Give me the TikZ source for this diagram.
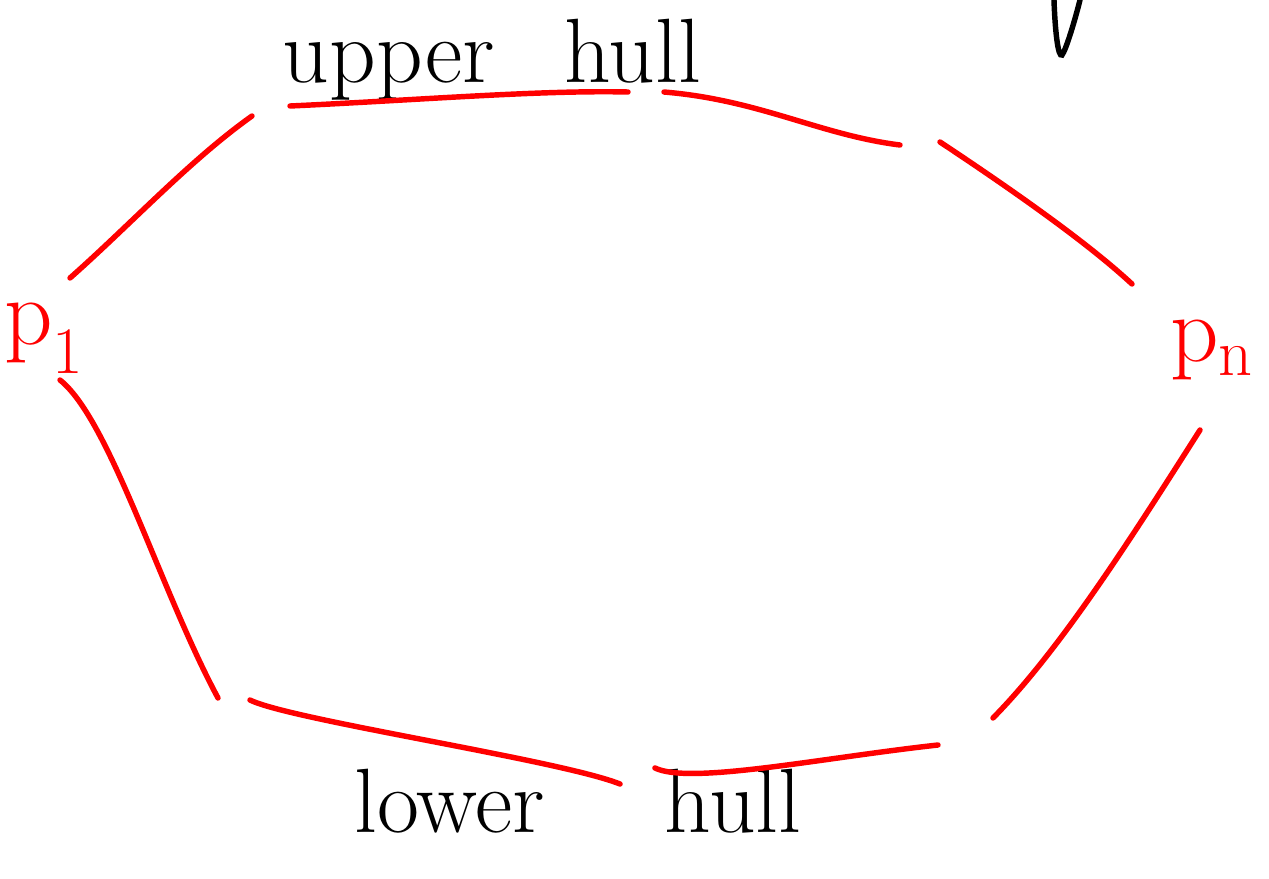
\documentclass[tikz,border=0pt]{standalone}
\usepackage{tikz}
\usetikzlibrary{positioning}

\begin{document}
\begin{tikzpicture}[x=0.02cm,y=-0.02cm]
    \tikzset{
    hulledge/.style={
        red, line width=3.1pt, line cap=round
    },
    hulllabel/.style={
        black, font=\fontsize{52}{58}\selectfont, inner sep=0pt, anchor=base
    },
    ptlabel/.style={
        red, font=\fontsize{54}{60}\selectfont, inner sep=0pt
    }
    }
        \useasboundingbox (0,0) rectangle (1269,879);

        % vertices of the hull (end points of the strokes)
        \coordinate (a1) at (70,278);   \coordinate (a2) at (252,116);
        \coordinate (b1) at (290,106);  \coordinate (b2) at (628,92);
        \coordinate (c1) at (664,92);   \coordinate (c2) at (900,145);
        \coordinate (d1) at (940,142);  \coordinate (d2) at (1132,284);
        \coordinate (e1) at (1200,430); \coordinate (e2) at (993,718);
        \coordinate (f1) at (938,745);  \coordinate (f2) at (655,768);
        \coordinate (g1) at (620,784);  \coordinate (g2) at (250,700);
        \coordinate (h1) at (218,698);  \coordinate (h2) at (60,380);

        \node (p1)[ptlabel] at (44,338) {p\textsubscript{1}};
        \node (pn)[ptlabel] at (1212,350) {p\textsubscript{n}};
        \node (upper)[hulllabel] at (492,82) {upper\hspace{1.4cm}hull};
        \node (lower)[hulllabel] at (578,832) {lower\hspace{2.4cm}hull};

        \draw[hulledge] (a1) .. controls (130,225) and (190,160) .. (a2);
        \draw[hulledge] (b1) .. controls (420,100) and (540,90) .. (b2);
        \draw[hulledge] (c1) .. controls (760,100) and (820,135) .. (c2);
        \draw[hulledge] (d1) .. controls (1020,195) and (1090,245) .. (d2);
        \draw[hulledge] (e1) .. controls (1130,540) and (1060,650) .. (e2);
        \draw[hulledge] (f1) .. controls (820,758) and (690,785) .. (f2);
        \draw[hulledge] (g1) .. controls (560,760) and (290,720) .. (g2);
        \draw[hulledge] (h1) .. controls (160,590) and (110,420) .. (h2);

        % stray pen stroke at the top
        \coordinate (v1) at (1054,0); \coordinate (v2) at (1080,0);
        \draw[black, line width=3.1pt, line cap=round]
            (v1) .. controls (1055,30) and (1058,58) .. (1062,55)
            .. controls (1066,50) and (1075,20) .. (v2);

    \end{tikzpicture}
\end{document}
